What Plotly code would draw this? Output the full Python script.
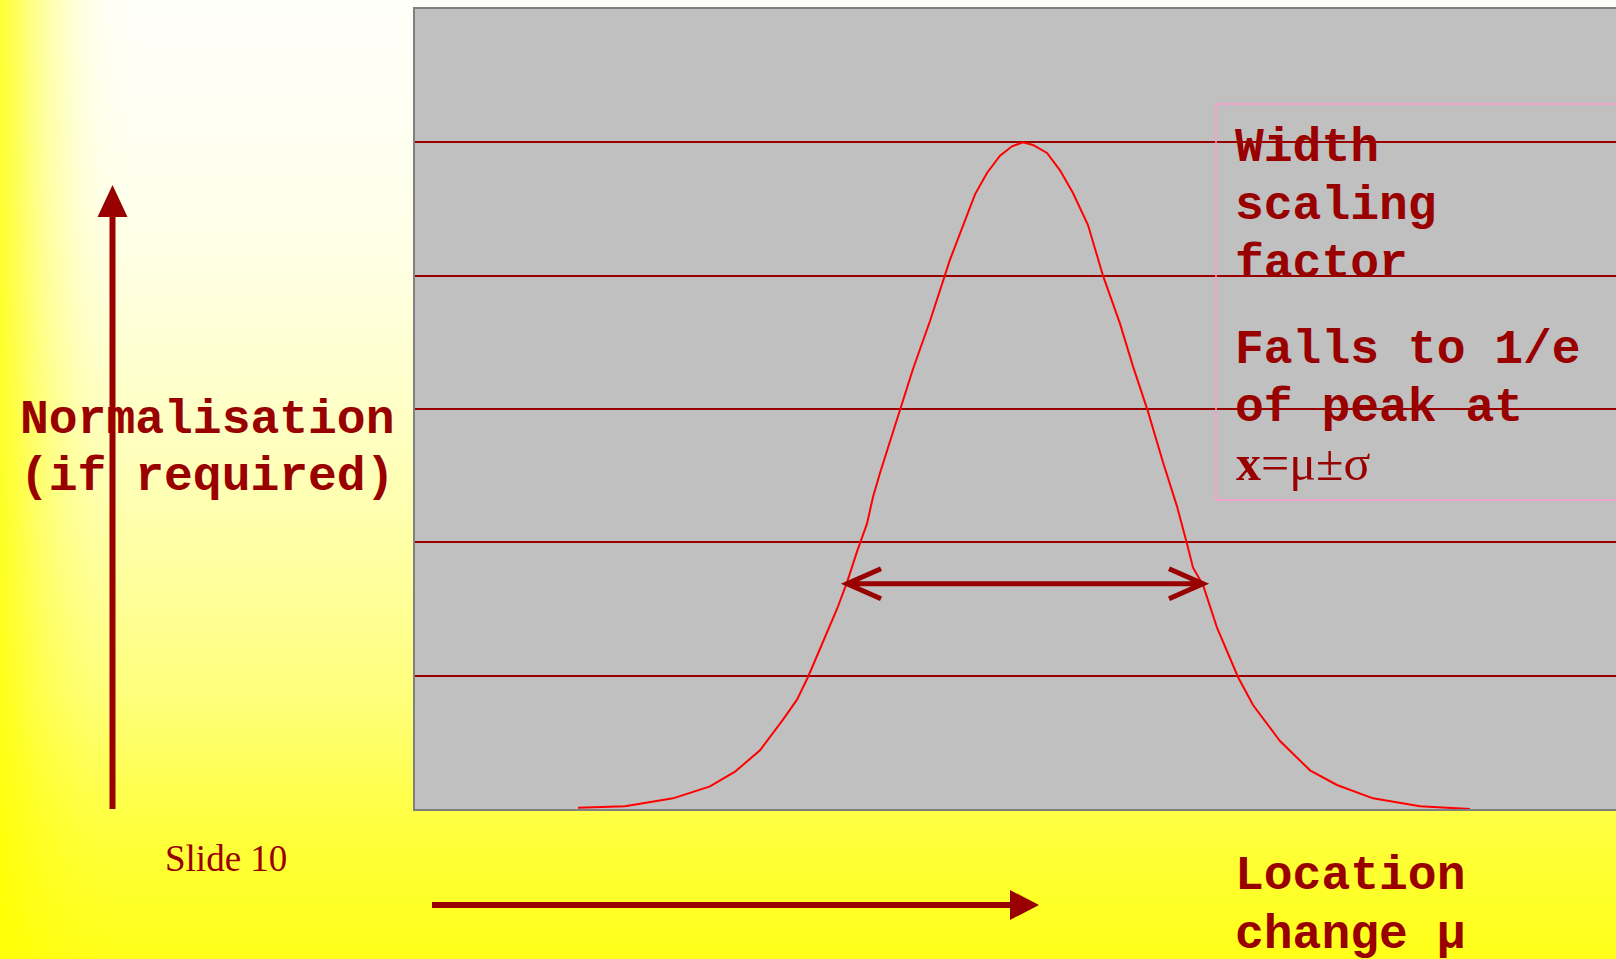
import base64
import struct
import zlib

import numpy as np
import plotly.graph_objects as go

# ---------------------------------------------------------------------------
# Curve data: position along the location axis and normalised height
# ---------------------------------------------------------------------------
x_pos = [16.3, 21.0, 25.8, 29.5, 32.0, 34.5, 36.8, 38.2, 39.3, 40.8, 42.2, 43.2,
         44.2, 45.2, 45.8, 46.5, 48.5, 49.8, 51.5, 53.5, 56.0, 57.2, 58.5, 59.7,
         60.8, 61.8, 63.2, 64.5, 65.8, 67.3, 68.8, 70.5, 71.8, 73.3, 74.8, 76.2,
         77.2, 77.8, 78.8, 80.2, 82.3, 83.8, 86.5, 89.5, 92.2, 95.8, 100.5, 105.5]
height = [0.01, 0.02, 0.08, 0.17, 0.28, 0.44, 0.67, 0.82, 0.99, 1.26, 1.50, 1.70,
          1.93, 2.14, 2.34, 2.52, 3.00, 3.30, 3.66, 4.12, 4.61, 4.77, 4.90, 4.97,
          5.00, 4.98, 4.92, 4.79, 4.62, 4.38, 4.00, 3.64, 3.32, 2.98, 2.60, 2.27,
          1.99, 1.81, 1.68, 1.36, 0.99, 0.78, 0.51, 0.29, 0.18, 0.08, 0.02, 0.00]

# width marker: the double arrow spans the curve at this height
width_level = 1.69
width_left = 43.2
width_right = 78.8

x_range = [0, 120.1]
y_range = [0, 6]
grid_ticks = [1, 2, 3, 4, 5]

box_lines_top = ["Width", "scaling", "factor"]
box_lines_mid = ["Falls to 1/e", "of peak at"]
box_formula = "<b>x</b>=\u03bc\u00b1\u03c3"
y_label = ["Normalisation", "(if required)"]
x_label = ["Location", "change \u03bc"]
footer = "Slide 10"

# ---------------------------------------------------------------------------
# Page geometry (pixels)
# ---------------------------------------------------------------------------
W, H = 1616, 959
PLOT_L, PLOT_T, PLOT_B = 415, 9, 809
PLOT_W = W - PLOT_L
PLOT_H = PLOT_B - PLOT_T

DARK_RED = "#990000"


def PX(p):
    return (p - PLOT_L) / PLOT_W


def PY(p):
    return (PLOT_B - p) / PLOT_H


# ---------------------------------------------------------------------------
# Slide background: white-to-yellow wash with a yellow left edge
# ---------------------------------------------------------------------------
def png_uri(rgb):
    h, w, _ = rgb.shape
    raw = b"".join(b"\x00" + rgb[i].tobytes() for i in range(h))

    def chunk(tag, data):
        c = struct.pack(">I", len(data)) + tag + data
        return c + struct.pack(">I", zlib.crc32(tag + data) & 0xFFFFFFFF)

    png = (b"\x89PNG\r\n\x1a\n"
           + chunk(b"IHDR", struct.pack(">IIBBBBB", w, h, 8, 2, 0, 0, 0))
           + chunk(b"IDAT", zlib.compress(raw, 9))
           + chunk(b"IEND", b""))
    return "data:image/png;base64," + base64.b64encode(png).decode()


gw, gh = 404, 240
gx = (np.arange(gw) + 0.5) * W / gw
gy = (np.arange(gh) + 0.5) * H / gh
wash_v = np.interp(gy, [0, 100, 200, 300, 400, 500, 600, 700, 800, 850, 959],
                   [0.98, 0.96, 0.93, 0.87, 0.79, 0.70, 0.60, 0.48, 0.30, 0.22, 0.10])
wash_h = np.interp(gx, [0, 15, 33, 50, 67, 85, 100, 130],
                   [0.20, 0.35, 0.55, 0.70, 0.82, 0.92, 0.97, 1.0])
blue = np.clip(255 * np.outer(wash_v, wash_h), 0, 255).astype(np.uint8)
bg = np.empty((gh, gw, 3), dtype=np.uint8)
bg[..., 0] = 255
bg[..., 1] = 255
bg[..., 2] = blue
bg_uri = png_uri(bg)

# ---------------------------------------------------------------------------
# Figure
# ---------------------------------------------------------------------------
fig = go.Figure()
fig.add_trace(go.Scatter(x=x_pos, y=height, mode="lines",
                         line=dict(color="#FF0000", width=2),
                         hoverinfo="skip"))

fig.update_layout(
    width=W, height=H,
    margin=dict(l=PLOT_L, r=0, t=PLOT_T, b=H - PLOT_B, pad=0),
    paper_bgcolor="#FFFF33",
    plot_bgcolor="#C0C0C0",
    showlegend=False,
    xaxis=dict(range=x_range, showgrid=False, zeroline=False,
               showticklabels=False, ticks="", showline=True, mirror=True,
               linecolor="#808080", linewidth=2, fixedrange=True),
    yaxis=dict(range=y_range, tickvals=grid_ticks, showgrid=True,
               gridcolor=DARK_RED, gridwidth=1.5, zeroline=False,
               showticklabels=False, ticks="", showline=True, mirror=False,
               linecolor="#808080", linewidth=2, fixedrange=True),
    images=[dict(source=bg_uri, xref="paper", yref="paper",
                 x=PX(0), y=PY(0), sizex=W / PLOT_W, sizey=H / PLOT_H,
                 xanchor="left", yanchor="top", sizing="stretch",
                 layer="below")],
)

shapes = []

# grey plot panel, laid over the slide wash but under grid and curve
shapes.append(dict(type="rect", xref="paper", yref="paper",
                   x0=0, x1=1, y0=0, y1=1, layer="below",
                   fillcolor="#C0C0C0", line=dict(width=0)))

# text box outline
shapes.append(dict(type="rect", xref="paper", yref="paper",
                   x0=PX(1216), x1=PX(1640), y0=PY(104), y1=PY(500),
                   line=dict(color="#FF99CC", width=1.5), fillcolor="rgba(0,0,0,0)"))

# double-headed width arrow across the curve
arm_dx = 3.4
arm_dy = 0.1125
arrow_path = (
    f"M{width_left},{width_level} L{width_right},{width_level} "
    f"M{width_left + arm_dx},{width_level + arm_dy} L{width_left},{width_level} "
    f"L{width_left + arm_dx},{width_level - arm_dy} "
    f"M{width_right - arm_dx},{width_level + arm_dy} L{width_right},{width_level} "
    f"L{width_right - arm_dx},{width_level - arm_dy}"
)
shapes.append(dict(type="path", xref="x", yref="y", path=arrow_path,
                   line=dict(color=DARK_RED, width=5), layer="above"))

# vertical "normalisation" arrow
shapes.append(dict(type="line", xref="paper", yref="paper",
                   x0=PX(112.5), x1=PX(112.5), y0=PY(809), y1=PY(214),
                   line=dict(color=DARK_RED, width=6)))
shapes.append(dict(type="path", xref="paper", yref="paper",
                   path=f"M{PX(97.5)},{PY(217)} L{PX(127.5)},{PY(217)} L{PX(112.5)},{PY(185)} Z",
                   fillcolor=DARK_RED, line=dict(color=DARK_RED, width=0)))

# horizontal "location" arrow
shapes.append(dict(type="line", xref="paper", yref="paper",
                   x0=PX(432), x1=PX(1012), y0=PY(905), y1=PY(905),
                   line=dict(color=DARK_RED, width=6)))
shapes.append(dict(type="path", xref="paper", yref="paper",
                   path=f"M{PX(1010)},{PY(890)} L{PX(1010)},{PY(920)} L{PX(1039)},{PY(905)} Z",
                   fillcolor=DARK_RED, line=dict(color=DARK_RED, width=0)))

fig.update_layout(shapes=shapes)

MONO = "Liberation Mono"
SERIF = "Liberation Serif"
MONO_SIZE = 48


def label(text, left, baseline, family=MONO, size=MONO_SIZE, bold=True, shift=0.27):
    fig.add_annotation(
        text=f"<b>{text}</b>" if bold else text,
        xref="paper", yref="paper",
        x=PX(left), y=PY(baseline - shift * size),
        xanchor="left", yanchor="middle", showarrow=False,
        font=dict(family=family, size=size, color=DARK_RED),
    )


for line, base in zip(y_label, [433, 490]):
    label(line, 18, base)

for line, base in zip(box_lines_top, [161, 219, 277]):
    label(line, 1233, base)

for line, base in zip(box_lines_mid, [363, 421]):
    label(line, 1233, base)

label(box_formula, 1234, 480, family=SERIF, size=50, bold=False, shift=0.34)

for line, base in zip(x_label, [889, 948]):
    label(line, 1233, base)

label(footer, 163, 871, family=SERIF, size=37, bold=False, shift=0.34)

fig.write_html("out.html")
